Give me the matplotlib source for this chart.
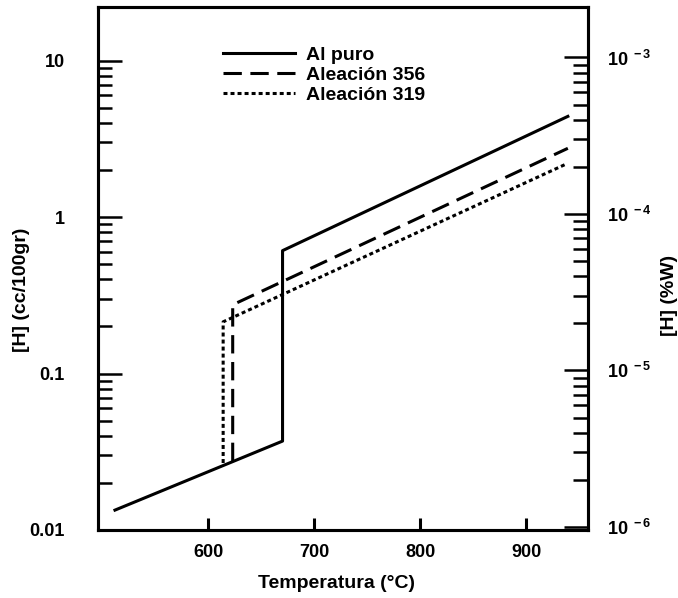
import matplotlib.pyplot as plt
from matplotlib.ticker import FixedLocator, NullFormatter

plt.rcParams['font.family'] = ['Liberation Sans', 'DejaVu Sans']
plt.rcParams['font.weight'] = 'bold'
plt.rcParams['mathtext.fontset'] = 'custom'
plt.rcParams['mathtext.rm'] = 'Liberation Sans:bold'
plt.rcParams['mathtext.bf'] = 'Liberation Sans:bold'
plt.rcParams['mathtext.it'] = 'Liberation Sans:bold'

# data: temperature (C) vs hydrogen solubility (cc/100gr)
al_T = [512, 670, 670, 939]
al_H = [0.0134, 0.037, 0.61, 4.4]
a356_T = [623, 623, 939]
a356_H = [0.0276, 0.275, 2.75]
a319_T = [614, 614, 936]
a319_H = [0.0268, 0.214, 2.16]

labels = ['Al puro', 'Aleación 356', 'Aleación 319']
x_ticks = [600, 700, 800, 900]
left_ticks = [0.01, 0.1, 1, 10]
left_labels = ['0.01', '0.1', '1', '10']
right_ticks = [1e-6, 1e-5, 1e-4, 1e-3]
right_labels = [r'$10^{\ -6}$', r'$10^{\ -5}$', r'$10^{\ -4}$', r'$10^{\ -3}$']

# minor ticks only between the labelled decades
left_minor = [m * d for d in left_ticks[:-1] for m in range(2, 10)]
right_minor = [m * d for d in right_ticks[:-1] for m in range(2, 10)]

fig = plt.figure(figsize=(6.78, 5.98), dpi=100)
ax = fig.add_axes([98 / 678, 1 - 530 / 598, 490 / 678, 523 / 598])

lw = 2.2
ax.plot(al_T, al_H, color='black', lw=lw, ls='-', label=labels[0])
ax.plot(a356_T, a356_H, color='black', lw=lw, ls=(0, (6, 2.8)), label=labels[1])
ax.plot(a319_T, a319_H, color='black', lw=lw, ls=(0, (1.3, 1.0)), label=labels[2])

ax.set_yscale('log')
ax.set_xlim(496, 958)
ax.set_ylim(0.01, 22)

ax.set_xticks(x_ticks)
ax.set_xticklabels([str(t) for t in x_ticks])
ax.yaxis.set_major_locator(FixedLocator(left_ticks))
ax.yaxis.set_minor_locator(FixedLocator(left_minor))
ax.set_yticklabels(left_labels)
ax.yaxis.set_minor_formatter(NullFormatter())

for s in ax.spines.values():
    s.set_linewidth(2.2)

ax.tick_params(axis='x', which='major', direction='in', length=9, width=2.2,
               pad=10, labelsize=13, top=False)
ax.tick_params(axis='x', which='minor', bottom=False, top=False)
ax.tick_params(axis='y', which='major', direction='in', length=17, width=1.8,
               pad=24, labelsize=13, right=False)
ax.tick_params(axis='y', which='minor', direction='in', length=10, width=1.8,
               right=False)

ax2 = ax.twinx()
ax2.set_yscale('log')
f = 1e-4 / 1.047
ax2.set_ylim(0.01 * f, 22 * f)
ax2.yaxis.set_major_locator(FixedLocator(right_ticks))
ax2.yaxis.set_minor_locator(FixedLocator(right_minor))
ax2.set_yticklabels(right_labels)
ax2.yaxis.set_minor_formatter(NullFormatter())
for s in ax2.spines.values():
    s.set_linewidth(2.2)
ax2.tick_params(axis='y', which='major', direction='in', length=17, width=1.8,
                pad=14, labelsize=13)
ax2.tick_params(axis='y', which='minor', direction='in', length=11, width=1.8)

ax.legend(loc='upper left', bbox_to_anchor=(0.255, 0.925), frameon=False,
          borderaxespad=0, borderpad=0, handlelength=3.7, handletextpad=0.55,
          labelspacing=0.12, prop={'size': 14, 'weight': 'bold'})

fig.text(336 / 678, 1 - 583 / 598, 'Temperatura (°C)', ha='center', va='center',
         fontsize=14, fontweight='bold')
fig.text(22 / 678, 1 - 290 / 598, '[H] (cc/100gr)', ha='center', va='center',
         rotation=90, fontsize=14, fontweight='bold')
fig.text(669 / 678, 1 - 295 / 598, '[H] (%W)', ha='center', va='center',
         rotation=90, fontsize=14, fontweight='bold')

fig.savefig('out.png', dpi=100)
